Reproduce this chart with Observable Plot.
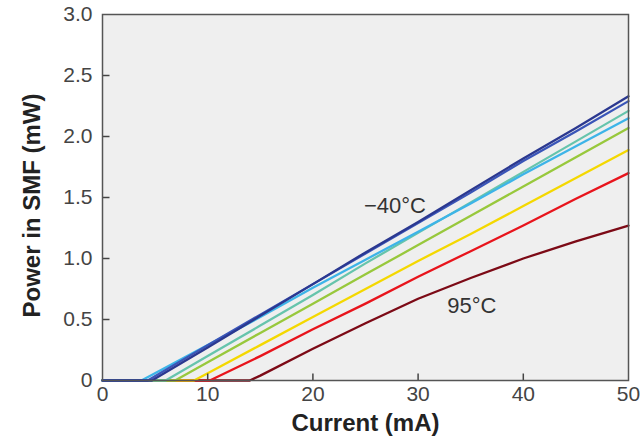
<!DOCTYPE html>
<html><head><meta charset="utf-8">
<script src="https://cdn.jsdelivr.net/npm/d3@7"></script>
<script src="https://cdn.jsdelivr.net/npm/@observablehq/plot@0.6"></script>
<style>
body{margin:0;background:#fff;}
#chart svg{font-family:"Liberation Sans",Arial,Helvetica,sans-serif;}
</style>
</head><body><div id="chart"></div>
<script>
// Series (coldest -> hottest)
const seriesNames  = ["-40°C", "s2", "s3", "s4", "s5", "s6", "s7", "95°C"];
const seriesColors = ["#2b3890", "#3a55b8", "#3db4e8", "#66c4ac", "#98c83c", "#f4d800", "#e8141c", "#7c0a16"];
const xNavy   = [0, 4.7, 10, 15, 20, 25, 30, 35, 40, 45, 50];
const yNavy   = [0, 0, 0.27, 0.53, 0.79, 1.05, 1.30, 1.56, 1.82, 2.07, 2.33];
const xBlue   = [0, 4.3, 10, 15, 20, 25, 30, 35, 40, 45, 50];
const yBlue   = [0, 0, 0.29, 0.54, 0.79, 1.04, 1.29, 1.54, 1.80, 2.04, 2.29];
const xCyan   = [0, 3.7, 10, 15, 20, 25, 30, 35, 40, 45, 50];
const yCyan   = [0, 0, 0.29, 0.52, 0.76, 0.99, 1.22, 1.45, 1.69, 1.92, 2.15];
const xTeal   = [0, 6.0, 10, 15, 20, 25, 30, 35, 40, 45, 50];
const yTeal   = [0, 0, 0.20, 0.45, 0.70, 0.96, 1.21, 1.46, 1.71, 1.96, 2.21];
const xGreen  = [0, 6.9, 10, 15, 20, 25, 30, 35, 40, 45, 50];
const yGreen  = [0, 0, 0.15, 0.39, 0.63, 0.87, 1.11, 1.35, 1.59, 1.83, 2.07];
const xYellow = [0, 8.7, 10, 15, 20, 25, 30, 35, 40, 45, 50];
const yYellow = [0, 0, 0.06, 0.29, 0.52, 0.75, 0.98, 1.20, 1.43, 1.66, 1.89];
const xRed    = [0, 10.2, 15, 20, 25, 30, 35, 40, 45, 50];
const yRed    = [0, 0, 0.20, 0.42, 0.63, 0.85, 1.06, 1.27, 1.49, 1.70];
const xMaroon = [0, 14.0, 15, 20, 25, 30, 35, 40, 45, 50];
const yMaroon = [0, 0, 0.04, 0.26, 0.47, 0.67, 0.84, 1.00, 1.14, 1.27];

const xTicks = [0, 10, 20, 30, 40, 50];
const xTickLabels = ["0", "10", "20", "30", "40", "50"];
const yTicks = [0, 0.5, 1.0, 1.5, 2.0, 2.5, 3.0];
const yTickLabels = ["0", "0.5", "1.0", "1.5", "2.0", "2.5", "3.0"];

const annoText = ["\u221240°C", "95°C"];
const annoX = [27.8, 35.1];
const annoY = [1.43, 0.61];

const xLabel = "Current (mA)";
const yLabel = "Power in SMF (mW)";

const xs = [xNavy, xBlue, xCyan, xTeal, xGreen, xYellow, xRed, xMaroon];
const ys = [yNavy, yBlue, yCyan, yTeal, yGreen, yYellow, yRed, yMaroon];
const rows = [];
xs.forEach((arr, s) => arr.forEach((x, i) => rows.push({series: seriesNames[s], order: s, x, y: ys[s][i]})));
const annos = annoText.map((t, i) => ({t, x: annoX[i], y: annoY[i]}));

const lineMarks = seriesNames.map((name, s) => s).reverse().map(s =>
  Plot.line(rows.filter(d => d.order === s), {x: "x", y: "y", stroke: seriesColors[s], strokeWidth: 2.3})
);

// custom symbols for inward ticks
const tickUp = {draw(context) { context.moveTo(0, 0); context.lineTo(0, -7); }};
const tickRight = {draw(context) { context.moveTo(0, 0); context.lineTo(7, 0); }};

const chart = Plot.plot({
  width: 640, height: 445,
  marginLeft: 102, marginRight: 12, marginTop: 14, marginBottom: 65,
  style: {background: "#fff", color: "#333"},
  x: {domain: [0, 50]},
  y: {domain: [0, 3]},
  marks: [
    Plot.frame({fill: "#efefef", stroke: null}),
    ...lineMarks,
    Plot.dot(xTicks.slice(1, -1), {x: d => d, y: () => yTicks[0], symbol: tickUp, r: 4, fill: "none", stroke: "#444", strokeWidth: 1.5}),
    Plot.dot(yTicks.slice(1, -1), {x: () => xTicks[0], y: d => d, symbol: tickRight, r: 4, fill: "none", stroke: "#444", strokeWidth: 1.5}),
    Plot.frame({stroke: "#555", strokeWidth: 1.5}),
    Plot.axisX({ticks: xTicks, tickFormat: (d, i) => xTickLabels[i], tickSize: 0, tickPadding: 6, fontSize: 21, label: null, color: "#444"}),
    Plot.axisY({ticks: yTicks, tickFormat: (d, i) => yTickLabels[i], tickSize: 0, tickPadding: 10, fontSize: 21, label: null, color: "#444"}),
    Plot.text(annos, {x: "x", y: "y", text: "t", fontSize: 22, fill: "#333"}),
    Plot.text([xLabel], {frameAnchor: "bottom", dy: 50, fontSize: 24, fontWeight: "bold", fill: "#222"}),
    Plot.text([yLabel], {frameAnchor: "left", textAnchor: "middle", dx: -70, dy: 8, rotate: -90, fontSize: 24, fontWeight: "bold", fill: "#222"})
  ]
});
document.getElementById("chart").appendChild(chart);
</script>
</body></html>
